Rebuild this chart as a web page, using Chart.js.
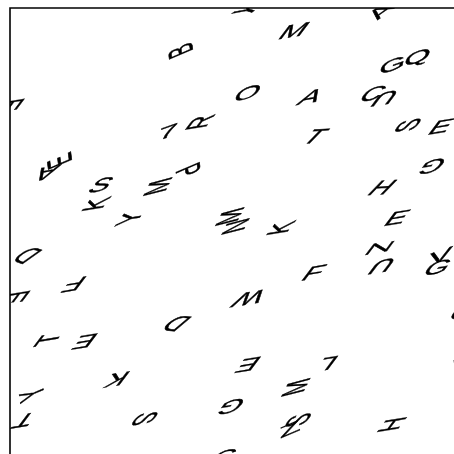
<!DOCTYPE html>
<html lang="en">
<head>
    <meta charset="UTF-8">
    <title>Letters</title>
    <script src="https://cdn.jsdelivr.net/npm/chart.js"></script>
    <style>
        html, body { margin: 0; padding: 0; overflow: hidden; background: #fff; }
        #wrap { position: absolute; left: 0; top: 0; width: 500px; height: 500px; }
    </style>
</head>
<body>
    <div id="wrap"><canvas id="lettersChart"></canvas></div>
    <script>
        // letters, positions (data units) and rotation of each letter (degrees)
        const letters = ['Y','M','A','G','Q','O','A','C','U','S','E','T','7','R','B','E',
                         'E','A','S','K','Y','M','P','D','F','E','G','H','E','M','N','K',
                         'Z','U','V','G','F','W','D','T','E','K','Y','T','S','G','C','E',
                         'L','M','Z','S','H','C','H','T'];
        const xs = [4.86,5.78,7.59,7.80,8.31,4.84,6.12,7.39,7.67,8.16,8.78,6.20,3.22,3.92,3.53,-0.04,
                    1.06,0.76,1.84,1.80,2.49,3.06,3.59,0.39,1.33,0.08,8.63,7.57,7.88,4.53,4.65,5.57,
                    7.51,7.61,8.78,8.71,6.18,4.90,3.43,0.82,1.55,2.20,0.49,0.31,2.71,4.53,4.33,4.88,
                    6.49,5.88,5.71,5.92,7.84,9.22,9.27,9.22];
        const ys = [9.96,9.51,9.92,8.82,8.98,8.25,8.17,8.23,8.19,7.62,7.56,7.36,7.46,7.68,9.15,8.01,
                    6.91,6.67,6.38,6.02,5.73,6.38,6.67,5.00,4.41,4.11,6.81,6.32,5.71,5.77,5.57,5.53,
                    5.12,4.78,4.94,4.70,4.59,4.13,3.62,3.27,3.25,2.48,2.17,1.65,1.65,1.93,0.85,2.78,
                    2.80,2.30,1.42,1.63,1.54,3.80,2.80,7.01];
        const angles = [-60,0,-60,-20,-20,-10,0,0,180,-90,0,10,-20,-90,-120,90,
                        -120,180,0,-90,-90,-100,60,-150,180,90,180,10,0,-100,-100,-90,
                        90,180,-20,0,0,180,-160,-90,180,180,-120,180,90,180,0,180,
                        180,-100,-30,-90,-90,0,-30,0];

        // the plane the letters lie on: squashed and slanted
        const widen = 0.9, tilt = -0.15, slant = 0.45, squash = 0.6;

        const letterPlugin = {
            id: 'letterPlugin',
            afterDatasetsDraw(chart) {
                const ctx = chart.ctx, area = chart.chartArea;
                const pts = chart.getDatasetMeta(0).data;
                ctx.save();
                ctx.beginPath();
                ctx.rect(area.left, area.top, area.right - area.left, area.bottom - area.top);
                ctx.clip();
                ctx.fillStyle = '#000';
                ctx.strokeStyle = '#000';
                ctx.lineWidth = 0.6;
                ctx.font = '34px "Liberation Sans", Arial, sans-serif';
                ctx.textAlign = 'center';
                ctx.textBaseline = 'middle';
                pts.forEach((p, i) => {
                    ctx.save();
                    ctx.translate(p.x, p.y);
                    ctx.transform(widen, tilt, -slant, squash, 0, 0);
                    ctx.rotate(angles[i] * Math.PI / 180);
                    ctx.fillText(letters[i], 0, 0);
                    ctx.strokeText(letters[i], 0, 0);
                    ctx.restore();
                });
                ctx.restore();
                // spines (left and top)
                ctx.save();
                ctx.strokeStyle = '#000';
                ctx.lineWidth = 1.6;
                ctx.beginPath();
                ctx.moveTo(area.left, chart.height);
                ctx.lineTo(area.left, area.top);
                ctx.lineTo(chart.width, area.top);
                ctx.stroke();
                ctx.restore();
            }
        };

        new Chart(document.getElementById('lettersChart').getContext('2d'), {
            type: 'scatter',
            data: {
                datasets: [{
                    data: xs.map((x, i) => ({ x: x, y: ys[i] })),
                    pointRadius: 0,
                    pointHoverRadius: 0
                }]
            },
            options: {
                responsive: true,
                maintainAspectRatio: false,
                animation: false,
                events: [],
                layout: { padding: { left: 10, top: 8, right: 0, bottom: 0 } },
                scales: {
                    x: { display: false, min: 0, max: 10 },
                    y: { display: false, min: 0, max: 10 }
                },
                plugins: { legend: { display: false }, tooltip: { enabled: false } }
            },
            plugins: [letterPlugin]
        });
    </script>
</body>
</html>
